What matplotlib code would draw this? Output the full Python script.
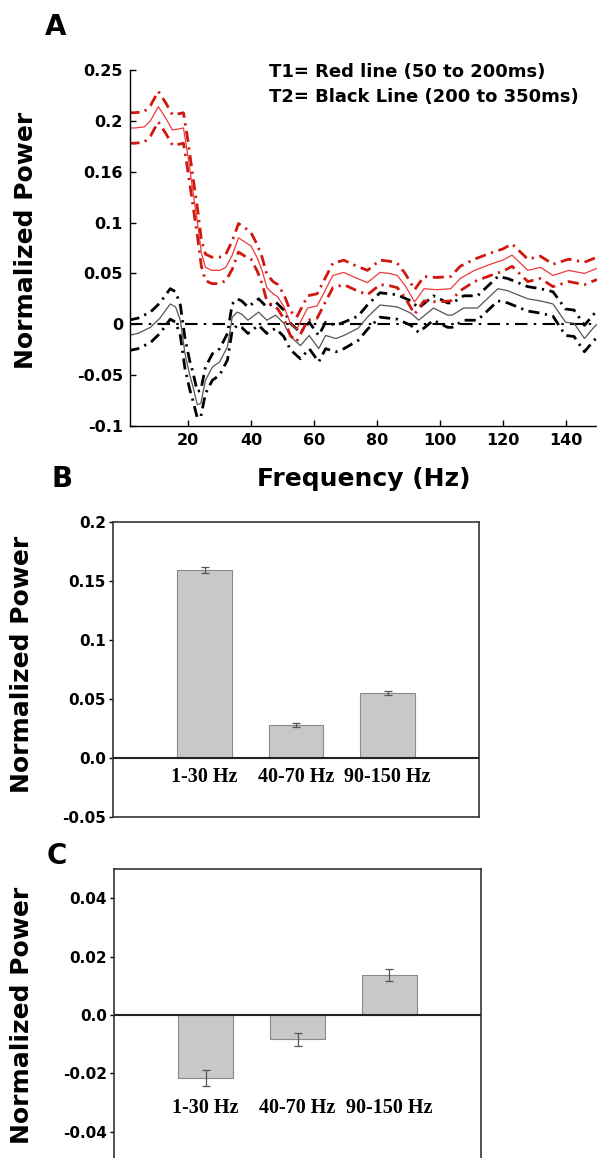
import numpy as np
import matplotlib
matplotlib.use("Agg")
import matplotlib.pyplot as plt

# ---- panel A : spectra ----
red_f = [1, 3, 6, 8, 10.5, 13, 15, 17, 18.5, 20, 21.5, 23, 24.2, 25.5, 27.5, 30, 32,
         34, 36, 38, 40, 42, 43.5, 45, 47, 48.5, 50.5, 52.5, 54.5, 56, 58, 61, 63.5,
         66, 69.5, 73, 77, 81, 84, 86.5, 89, 92, 95, 99, 103.5, 106.5, 111, 117, 120,
         123, 128, 132, 136, 141, 146, 150]
red_mean = [0.193, 0.193, 0.194, 0.200, 0.214, 0.202, 0.191, 0.192, 0.193, 0.164, 0.131,
            0.099, 0.070, 0.056, 0.053, 0.053, 0.056, 0.068, 0.085, 0.081, 0.077, 0.065,
            0.053, 0.036, 0.030, 0.027, 0.017, 0.001, -0.005, 0.004, 0.016, 0.018, 0.033,
            0.048, 0.051, 0.046, 0.041, 0.051, 0.050, 0.048, 0.038, 0.022, 0.035, 0.034,
            0.035, 0.045, 0.053, 0.060, 0.063, 0.068, 0.053, 0.056, 0.048, 0.053, 0.050,
            0.055]
red_err = [0.015, 0.015, 0.015, 0.015, 0.015, 0.015, 0.015, 0.015, 0.015, 0.015, 0.014,
           0.014, 0.013, 0.013, 0.013, 0.013, 0.013, 0.014, 0.014, 0.014, 0.013, 0.013,
           0.013, 0.013, 0.012, 0.012, 0.012, 0.012, 0.012, 0.012, 0.012, 0.012, 0.012,
           0.012, 0.012, 0.012, 0.012, 0.012, 0.012, 0.012, 0.012, 0.012, 0.012, 0.012,
           0.012, 0.012, 0.011, 0.011, 0.011, 0.011, 0.011, 0.011, 0.011, 0.011, 0.011,
           0.011]

blk_f = [1, 4, 8, 11, 14.3, 16, 17.5, 19, 20.5, 21.5, 22.9, 24, 25.5, 27.7, 30, 32.5, 34,
         35.6, 37, 39, 42.4, 45, 47.8, 50.4, 52.5, 55.7, 58.5, 61.5, 63.7, 67, 69.5, 74,
         77, 81, 86.5, 90.8, 93.3, 98, 102.5, 104, 107.6, 112, 118.5, 121.6, 128, 132,
         136, 140, 142.7, 146, 149, 150]
blk_mean = [-0.011, -0.009, -0.003, 0.006, 0.020, 0.017, 0.004, -0.029, -0.050, -0.061,
            -0.079, -0.078, -0.055, -0.042, -0.037, -0.022, 0.007, 0.012, 0.010, 0.004,
            0.012, 0.004, 0.009, 0.001, -0.012, -0.021, -0.011, -0.024, -0.011, -0.014,
            -0.011, -0.004, 0.007, 0.019, 0.017, 0.011, 0.004, 0.016, 0.009, 0.009, 0.016,
            0.016, 0.035, 0.033, 0.025, 0.023, 0.020, 0.002, 0.001, -0.014, -0.003, 0.000]
blk_err = [0.015, 0.015, 0.015, 0.015, 0.015, 0.015, 0.015, 0.015, 0.014, 0.014, 0.013,
           0.013, 0.013, 0.013, 0.013, 0.013, 0.013, 0.013, 0.013, 0.013, 0.013, 0.013,
           0.013, 0.013, 0.013, 0.013, 0.013, 0.013, 0.013, 0.013, 0.013, 0.012, 0.012,
           0.012, 0.012, 0.012, 0.012, 0.012, 0.012, 0.012, 0.012, 0.012, 0.012, 0.012,
           0.012, 0.012, 0.012, 0.013, 0.013, 0.013, 0.013, 0.013]

a_yticks = [-0.1, -0.05, 0, 0.05, 0.1, 0.15, 0.2, 0.25]
a_yticklabels = ['-0.1', '-0.05', '0', '0.05', '0.1', '0.16', '0.2', '0.25']
a_xticks = [20, 40, 60, 80, 100, 120, 140]

# ---- panels B and C : band averages ----
bands = ['1-30 Hz', '40-70 Hz', '90-150 Hz']
b_vals = [0.159, 0.028, 0.055]
b_errs = [0.0025, 0.002, 0.002]
c_vals = [-0.0217, -0.0083, 0.0138]
c_errs = [0.0027, 0.0022, 0.0021]

W, H = 597, 1158
fig = plt.figure(figsize=(W / 100, H / 100), dpi=100)
bold = dict(family='DejaVu Sans', weight='bold')


def fx(px):
    return px / W


def fy(py):
    return 1 - py / H


# panel A
ax = fig.add_axes([fx(130), fy(426), fx(467), 356 / H])
rf = np.array(red_f); rm = np.array(red_mean); re = np.array(red_err)
bf = np.array(blk_f); bm = np.array(blk_mean); be = np.array(blk_err)
dd = (4, 2, 0.8, 2)
ax.axhline(0, color='black', lw=1.5, dashes=(6, 3, 1.2, 3), zorder=1)
ax.plot(bf, bm + be, color='black', lw=2.0, dashes=dd)
ax.plot(bf, bm - be, color='black', lw=2.0, dashes=dd)
ax.plot(bf, bm, color='#555555', lw=0.9)
ax.plot(rf, rm + re, color='#d0180e', lw=2.0, dashes=dd)
ax.plot(rf, rm - re, color='#d0180e', lw=2.0, dashes=dd)
ax.plot(rf, rm, color='#f03a3a', lw=0.9)
ax.set_xlim(1.5, 150)
ax.set_ylim(-0.1, 0.25)
ax.set_yticks(a_yticks)
ax.set_yticklabels(a_yticklabels)
ax.set_xticks(a_xticks)
for s in ['top', 'right']:
    ax.spines[s].set_visible(False)
for s in ['left', 'bottom']:
    ax.spines[s].set_linewidth(1.0)
ax.tick_params(direction='in', length=4, width=1.0, labelsize=11.5, pad=5)
for lab in ax.get_xticklabels() + ax.get_yticklabels():
    lab.set_fontweight('bold')

fig.text(fx(269), fy(72), 'T1= Red line (50 to 200ms)', fontsize=13,
         ha='left', va='center', **bold)
fig.text(fx(269), fy(97), 'T2= Black Line (200 to 350ms)', fontsize=13,
         ha='left', va='center', **bold)
fig.text(fx(364), fy(479), 'Frequency (Hz)', fontsize=18, ha='center',
         va='center', **bold)


def bar_panel(rect, vals, errs, ylim, yticks, yticklabels, label_y):
    ax = fig.add_axes(rect)
    x = np.arange(1, len(bands) + 1)
    ax.bar(x, vals, width=0.6, color='#c8c8ca', edgecolor='#8a8a8a', lw=0.8, zorder=2)
    ax.errorbar(x, vals, yerr=errs, fmt='none', ecolor='#555555', elinewidth=0.9,
                capsize=3, capthick=0.9, zorder=3)
    ax.axhline(0, color='#222222', lw=1.5, zorder=4)
    for xi, name in zip(x, bands):
        ax.text(xi, label_y, name, ha='center', va='center', fontsize=14.5,
                family='Liberation Serif', weight='bold')
    ax.set_xlim(0, 4)
    ax.set_ylim(*ylim)
    ax.set_xticks([])
    ax.set_yticks(yticks)
    ax.set_yticklabels(yticklabels)
    for s in ax.spines.values():
        s.set_linewidth(1.2)
        s.set_color('#333333')
    ax.tick_params(axis='y', direction='out', length=3, width=1.0, labelsize=11, pad=2)
    for lab in ax.get_yticklabels():
        lab.set_fontweight('bold')
    return ax


bar_panel([fx(113), fy(817), fx(366), 295 / H], b_vals, b_errs, (-0.05, 0.2),
          [-0.05, 0, 0.05, 0.1, 0.15, 0.2],
          ['-0.05', '0.0', '0.05', '0.1', '0.15', '0.2'], -0.0165)
bar_panel([fx(114), fy(1161), fx(367), 292 / H], c_vals, c_errs, (-0.05, 0.05),
          [-0.04, -0.02, 0, 0.02, 0.04],
          ['-0.04', '-0.02', '0.0', '0.02', '0.04'], -0.0317)

# y labels and panel letters
for py, px in [(240, 26), (664, 22), (1015, 22)]:
    fig.text(fx(px), fy(py), 'Normalized Power', rotation=90, fontsize=18,
             ha='center', va='center', **bold)
for letter, px, py in [('A', 56, 27), ('B', 62, 479), ('C', 57, 856)]:
    fig.text(fx(px), fy(py), letter, fontsize=20, ha='center', va='center', **bold)

fig.savefig('out.png', dpi=100)
